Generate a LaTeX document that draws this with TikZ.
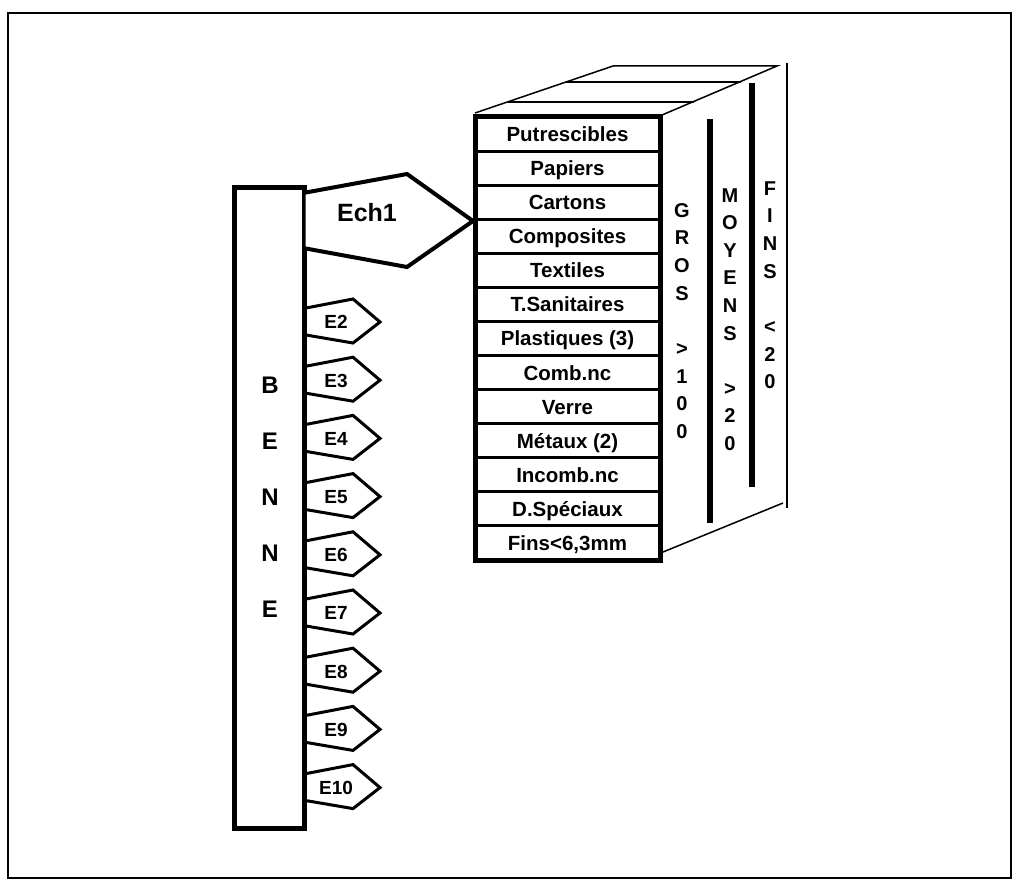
\documentclass[tikz,border=0pt]{standalone}
\usepackage{fontspec}
\setmainfont{Liberation Sans}

\begin{document}
\begin{tikzpicture}[x=1pt,y=-1pt,line join=miter,
    lbl/.style={font=\fontsize{20.5}{24}\selectfont\bfseries,anchor=base,inner sep=0pt},
    vlet/.style={font=\fontsize{20}{22}\selectfont\bfseries,anchor=base,inner sep=0pt},
    blet/.style={font=\fontsize{24}{26}\selectfont\bfseries,anchor=base,inner sep=0pt},
    tag/.style={line width=3pt},
    thinline/.style={line width=1.5pt}]
        \useasboundingbox (0,0) rectangle (1020,888);
        \draw[line width=2.5pt] (8,13) rectangle (1011,878);
        % benne
        \draw[line width=5pt] (234,187) rectangle (304,828);
        \foreach \c [count=\i from 0] in {B,E,N,N,E}
            \node[blet] (benne\i) at (270,{385+56*\i+8.5}) {\c};
        % first sample
        \fill[white] (305.5,193) -- (407,174) -- (473,221) -- (407,267) -- (305.5,248) -- cycle;
        \draw[line width=4pt] (303,193) -- (407,174) -- (473,221) -- (407,267) -- (303,248);
        \node[font=\fontsize{25}{28}\selectfont\bfseries,anchor=base,inner sep=0pt] (ech) at (367,221) {Ech1};
        % other samples
        \foreach \i in {2,...,10}{
            \def\yc{322+58.2*(\i-2)}
            \draw[tag] (306,{\yc-14}) -- (353,{\yc-23}) -- (380,{\yc}) -- (353,{\yc+21}) -- (306,{\yc+13});
            \node[font=\fontsize{19}{22}\selectfont\bfseries,anchor=base,inner sep=0pt] (e\i) at (336,{\yc+6.8}) {E\i};
        }
        % box of categories
        \draw[thinline] (475,113) -- (613,66) -- (777,66) -- (662,115);
        \draw[thinline] (566,82) -- (741,82);
        \draw[thinline] (508,102) -- (694,102);
        \draw[thinline] (787,63) -- (787,508);
        \draw[thinline] (663,552) -- (783,503);
        \draw[line width=6pt] (710,119) -- (710,523);
        \draw[line width=6pt] (752,83) -- (752,487);
        \draw[line width=5pt] (475,117) rectangle (660,560);
        \foreach \i in {1,...,12}
            \draw[line width=3pt] (475,{117+34.08*\i}) -- (660,{117+34.08*\i});
        \foreach \t [count=\i from 0] in {Putrescibles,Papiers,Cartons,Composites,Textiles,T.Sanitaires,Plastiques (3),Comb.nc,Verre,Métaux (2),Incomb.nc,D.Spéciaux,{Fins<6,3mm}}
            \node[lbl] (row\i) at (567.5,{117+34.08*\i+17+7.5}) {\t};
        % size classes
        \foreach \c [count=\i from 0] in {G,R,O,S,,>,1,0,0}
            \node[vlet] (gros\i) at (682,{210+27.7*\i+7}) {\c};
        \foreach \c [count=\i from 0] in {M,O,Y,E,N,S,,>,2,0}
            \node[vlet] (moy\i) at (730,{195+27.6*\i+7}) {\c};
        \foreach \c [count=\i from 0] in {F,I,N,S,,<,2,0}
            \node[vlet] (fins\i) at (770,{188+27.7*\i+7}) {\c};
\end{tikzpicture}
\end{document}
